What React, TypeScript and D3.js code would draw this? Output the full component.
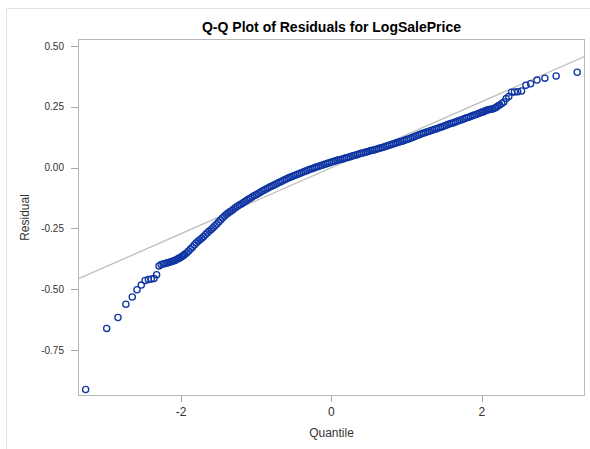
import React from 'react';
import * as d3 from 'd3';

const chartTitle = 'Q-Q Plot of Residuals for LogSalePrice';
const xAxisLabel = 'Quantile';
const yAxisLabel = 'Residual';

const xTickValues = [-2, 0, 2];
const yTickValues = [0.5, 0.25, 0, -0.25, -0.5, -0.75];

const xDomain: [number, number] = [-3.372, 3.374];
const yDomain: [number, number] = [-0.939, 0.529];

// Normal reference line: residual mean and standard deviation
const refMean = 0;
const refSd = 0.1357;

// [normal quantile, residual] — lowest residuals
const lowerTail: [number, number][] = [
  [-3.27, -0.912], [-2.99, -0.661], [-2.84, -0.616], [-2.735, -0.562], [-2.65, -0.532],
  [-2.587, -0.502], [-2.53, -0.483], [-2.479, -0.464], [-2.436, -0.46], [-2.397, -0.458],
  [-2.36, -0.456], [-2.326, -0.44], [-2.294, -0.404], [-2.266, -0.398], [-2.239, -0.396],
  [-2.214, -0.394], [-2.19, -0.392], [-2.167, -0.39], [-2.145, -0.388], [-2.124, -0.386],
  [-2.104, -0.384], [-2.085, -0.382], [-2.066, -0.379], [-2.048, -0.376], [-2.03, -0.373],
  [-2.013, -0.37], [-1.996, -0.366], [-1.98, -0.363], [-1.965, -0.36],
];

// [normal quantile, residual] — central body of the distribution
const centralBody: [number, number][] = [
  [-1.95, -0.356], [-1.925, -0.35], [-1.9, -0.343], [-1.875, -0.335], [-1.85, -0.327],
  [-1.825, -0.318], [-1.8, -0.31], [-1.775, -0.303], [-1.75, -0.296], [-1.725, -0.29],
  [-1.7, -0.283], [-1.675, -0.275], [-1.65, -0.268], [-1.625, -0.261], [-1.6, -0.254],
  [-1.575, -0.247], [-1.55, -0.239], [-1.525, -0.232], [-1.5, -0.224], [-1.475, -0.215],
  [-1.45, -0.207], [-1.425, -0.2], [-1.4, -0.193], [-1.375, -0.187], [-1.35, -0.181],
  [-1.325, -0.176], [-1.3, -0.17], [-1.275, -0.164], [-1.25, -0.159], [-1.225, -0.154],
  [-1.2, -0.149], [-1.175, -0.144], [-1.15, -0.139], [-1.125, -0.134], [-1.1, -0.129],
  [-1.075, -0.125], [-1.05, -0.12], [-1.025, -0.115], [-1.0, -0.111], [-0.975, -0.106],
  [-0.95, -0.102], [-0.925, -0.097], [-0.9, -0.093], [-0.875, -0.089], [-0.85, -0.085],
  [-0.825, -0.081], [-0.8, -0.077], [-0.775, -0.073], [-0.75, -0.069], [-0.725, -0.065],
  [-0.7, -0.061], [-0.675, -0.058], [-0.65, -0.054], [-0.625, -0.05], [-0.6, -0.047],
  [-0.575, -0.043], [-0.55, -0.04], [-0.525, -0.036], [-0.5, -0.033], [-0.475, -0.03],
  [-0.45, -0.027], [-0.425, -0.024], [-0.4, -0.021], [-0.375, -0.018], [-0.35, -0.015],
  [-0.325, -0.012], [-0.3, -0.009], [-0.275, -0.006], [-0.25, -0.003], [-0.225, 0.0],
  [-0.2, 0.003], [-0.175, 0.005], [-0.15, 0.008], [-0.125, 0.01], [-0.1, 0.013],
  [-0.075, 0.015], [-0.05, 0.018], [-0.025, 0.02], [0.0, 0.023], [0.025, 0.025],
  [0.05, 0.027], [0.075, 0.03], [0.1, 0.032], [0.125, 0.034], [0.15, 0.036],
  [0.175, 0.039], [0.2, 0.041], [0.225, 0.043], [0.25, 0.045], [0.275, 0.048],
  [0.3, 0.05], [0.325, 0.052], [0.35, 0.054], [0.375, 0.057], [0.4, 0.059],
  [0.425, 0.061], [0.45, 0.063], [0.475, 0.065], [0.5, 0.067], [0.525, 0.07],
  [0.55, 0.072], [0.575, 0.074], [0.6, 0.076], [0.625, 0.079], [0.65, 0.081],
  [0.675, 0.083], [0.7, 0.085], [0.725, 0.088], [0.75, 0.09], [0.775, 0.093],
  [0.8, 0.095], [0.825, 0.098], [0.85, 0.1], [0.875, 0.103], [0.9, 0.105],
  [0.925, 0.108], [0.95, 0.11], [0.975, 0.113], [1.0, 0.116], [1.025, 0.118],
  [1.05, 0.121], [1.075, 0.124], [1.1, 0.127], [1.125, 0.13], [1.15, 0.133],
  [1.175, 0.136], [1.2, 0.139], [1.225, 0.142], [1.25, 0.145], [1.275, 0.148],
  [1.3, 0.15], [1.325, 0.153], [1.35, 0.155], [1.375, 0.158], [1.4, 0.16],
  [1.425, 0.163], [1.45, 0.166], [1.475, 0.168], [1.5, 0.171], [1.525, 0.174],
  [1.55, 0.177], [1.575, 0.18], [1.6, 0.183], [1.625, 0.185], [1.65, 0.188],
  [1.675, 0.191], [1.7, 0.194], [1.725, 0.196], [1.75, 0.199], [1.775, 0.202],
  [1.8, 0.205], [1.825, 0.207], [1.85, 0.21], [1.875, 0.213], [1.9, 0.216],
  [1.925, 0.219], [1.95, 0.222], [1.975, 0.225], [1.995, 0.228],
];

// [normal quantile, residual] — highest residuals
const upperTail: [number, number][] = [
  [2.013, 0.229], [2.03, 0.231], [2.048, 0.234], [2.066, 0.236], [2.085, 0.238],
  [2.104, 0.239], [2.124, 0.24], [2.145, 0.241], [2.167, 0.244], [2.19, 0.247],
  [2.214, 0.253], [2.239, 0.258], [2.266, 0.264], [2.294, 0.27], [2.326, 0.284],
  [2.36, 0.293], [2.397, 0.31], [2.436, 0.311], [2.479, 0.312], [2.53, 0.315],
  [2.587, 0.339], [2.65, 0.345], [2.735, 0.36], [2.84, 0.368], [2.99, 0.377],
  [3.27, 0.392],
];

const W = 590;
const H = 449;
const frame = { left: 78, right: 585, top: 39, bottom: 396 };
const FONT = '"Liberation Sans", Arial, sans-serif';
const MARKER = '#0f35a3';

// tick text with an ASCII hyphen as the minus sign
const fmtY = (v: number) => d3.format('.2f')(v).replace('\u2212', '-');
const fmtX = (v: number) => d3.format('d')(v).replace('\u2212', '-');

export default function App() {
  const x = d3.scaleLinear().domain(xDomain).range([frame.left, frame.right]);
  const y = d3.scaleLinear().domain(yDomain).range([frame.bottom, frame.top]);

  const points = [...lowerTail, ...centralBody, ...upperTail];

  const refLine = d3
    .line<number>()
    .x((q) => x(q))
    .y((q) => y(refMean + refSd * q));

  const cx = (frame.left + frame.right) / 2;

  return (
    <svg
      width={W}
      height={H}
      viewBox={`0 0 ${W} ${H}`}
      style={{ position: 'absolute', left: 0, top: 0, display: 'block', background: '#fff' }}
      fontFamily={FONT}
    >
      <defs>
        <clipPath id="plotClip">
          <rect x={frame.left} y={frame.top} width={frame.right - frame.left} height={frame.bottom - frame.top} />
        </clipPath>
      </defs>

      {/* outer panel border */}
      <rect x={6.5} y={8.5} width={W + 10} height={H + 10} fill="none" stroke="#e2e2e2" strokeWidth={1} />

      <text x={cx} y={32} textAnchor="middle" fontSize={14} fontWeight="bold" fill="#000">
        {chartTitle}
      </text>

      {/* y axis */}
      {yTickValues.map((t) => (
        <g key={`y${t}`}>
          <line x1={frame.left - 7} x2={frame.left} y1={Math.round(y(t)) + 0.5} y2={Math.round(y(t)) + 0.5} stroke="#a8a8a8" />
          <text x={frame.left - 14} y={y(t)} dy="0.35em" textAnchor="end" fontSize={10} fill="#333">
            {fmtY(t)}
          </text>
        </g>
      ))}
      <text
        transform={`translate(25,${(frame.top + frame.bottom) / 2}) rotate(-90)`}
        textAnchor="middle"
        dy="0.35em"
        fontSize={12}
        fill="#333"
      >
        {yAxisLabel}
      </text>

      {/* x axis */}
      {xTickValues.map((t) => (
        <g key={`x${t}`}>
          <line x1={Math.round(x(t)) + 0.5} x2={Math.round(x(t)) + 0.5} y1={frame.bottom} y2={frame.bottom + 6} stroke="#a8a8a8" />
          <text x={x(t)} y={frame.bottom + 16} dy="0.35em" textAnchor="middle" fontSize={12} fill="#333">
            {fmtX(t)}
          </text>
        </g>
      ))}
      <text x={cx} y={frame.bottom + 37} dy="0.35em" textAnchor="middle" fontSize={12} fill="#333">
        {xAxisLabel}
      </text>

      <g clipPath="url(#plotClip)">
        <path d={refLine(xDomain) ?? ''} fill="none" stroke="#bdbdbd" strokeWidth={1.3} />
        {points.map(([q, r], i) => (
          <circle key={i} cx={x(q)} cy={y(r)} r={3.1} fill="none" stroke={MARKER} strokeWidth={1.3} />
        ))}
      </g>

      {/* plot frame */}
      <rect
        x={frame.left + 0.5}
        y={frame.top + 0.5}
        width={frame.right - frame.left - 1}
        height={frame.bottom - frame.top - 1}
        fill="none"
        stroke="#b8b8b8"
      />
    </svg>
  );
}
